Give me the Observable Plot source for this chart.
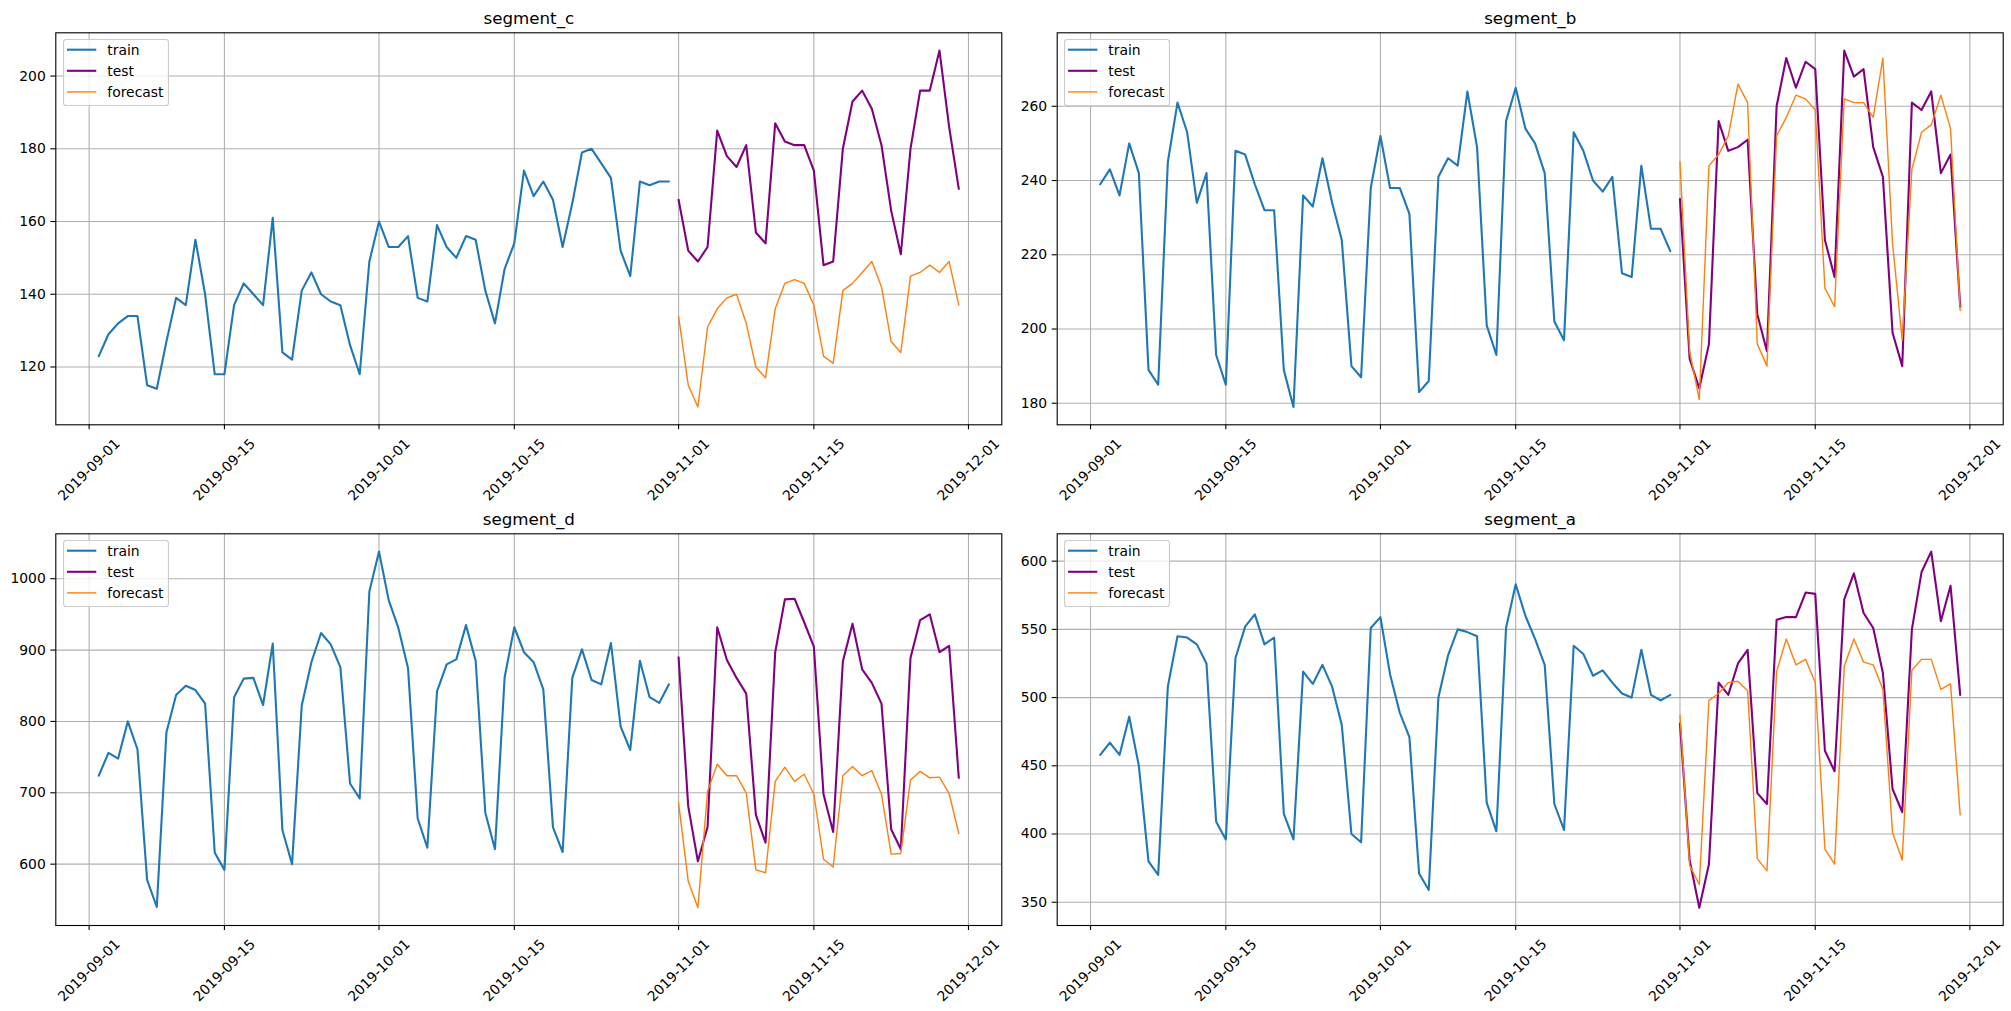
<!DOCTYPE html>
<html><head><meta charset="utf-8">
<script src="https://cdn.jsdelivr.net/npm/d3@7"></script>
<script src="https://cdn.jsdelivr.net/npm/@observablehq/plot@0.6"></script>
<style>
html,body{margin:0;padding:0;background:#fff;}
#root{position:relative;width:2011px;height:1011px;overflow:hidden;font-family:"DejaVu Sans",sans-serif;background:#fff;}
.panel{position:absolute;}
.legend{position:absolute;}
</style></head><body><div id="root"></div>
<script>
// ---------- data ----------
const trainStart = "2019-09-02";
const testStart = "2019-11-01";
const xTickDates = ["2019-09-01","2019-09-15","2019-10-01","2019-10-15","2019-11-01","2019-11-15","2019-12-01"];
const xTickLabels = ["2019-09-01","2019-09-15","2019-10-01","2019-10-15","2019-11-01","2019-11-15","2019-12-01"];
const seriesNames = ["train","test","forecast"];

// segment_c
const train_c = [123,129,132,134,134,115,114,127,139,137,155,140,118,118,137,143,140,137,161,124,122,141,146,140,138,137,126,118,149,160,153,153,156,139,138,159,153,150,156,155,141,132,147,154,174,167,171,166,153,165,179,180,176,172,152,145,171,170,171,171];
const test_c = [166,152,149,153,185,178,175,181,157,154,187,182,181,181,174,148,149,180,193,196,191,181,163,151,180,196,196,207,186,169];
const forecast_c = [134,115,109,131,136,139,140,132,120,117,136,143,144,143,137,123,121,141,143,146,149,142,127,124,145,146,148,146,149,137];
const yTicks_c = [120,140,160,180,200];

// segment_b
const train_b = [239,243,236,250,242,189,185,245,261,253,234,242,193,185,248,247,239,232,232,189,179,236,233,246,234,224,190,187,238,252,238,238,231,183,186,241,246,244,264,249,201,193,256,265,254,250,242,202,197,253,248,240,237,241,215,214,244,227,227,221];
const test_b = [235,192,184,196,256,248,249,251,204,194,260,273,265,272,270,224,214,275,268,270,249,241,199,190,261,259,264,242,247,206];
const forecast_b = [245,194,181,244,247,252,266,261,196,190,252,257,263,262,259,211,206,262,261,261,257,273,223,197,243,253,255,263,254,205];
const yTicks_b = [180,200,220,240,260];

// segment_d
const train_d = [724,756,748,800,761,578,540,785,837,850,844,825,616,592,834,860,861,823,909,648,600,822,883,924,908,876,713,692,982,1038,970,931,875,664,623,842,880,887,935,885,672,621,862,932,897,883,845,652,617,861,901,858,852,910,793,760,885,834,826,852];
const test_d = [890,681,604,652,932,886,861,839,669,630,897,971,972,939,905,698,645,884,937,873,854,825,649,621,889,942,950,897,906,721];
const forecast_d = [686,576,539,702,740,724,724,700,592,588,716,736,716,726,698,607,596,724,737,724,731,698,614,615,718,730,721,722,699,643];
const yTicks_d = [600,700,800,900,1000];

// segment_a
const train_a = [458,467,458,486,450,380,370,508,545,544,539,525,409,396,529,552,561,539,544,415,396,519,510,524,508,480,400,394,551,559,517,489,471,371,359,500,531,550,548,545,423,402,551,583,560,543,524,422,403,538,532,516,520,511,503,500,535,502,498,502];
const test_a = [481,381,346,378,511,502,525,535,430,422,557,559,559,577,576,461,446,572,591,562,551,518,433,416,550,592,607,556,582,502];
const forecast_a = [487,377,363,498,503,511,512,505,382,373,519,543,524,528,511,389,378,523,543,526,524,506,401,381,520,528,528,506,510,414];
const yTicks_a = [350,400,450,500,550,600];

// ---------- styling / layout ----------
const colors = {train:"#1f77b4", test:"purple", forecast:"#ff7f0e"};
const widths = {train:2.1, test:2.1, forecast:1.4};

const panels = [
  {name:"segment_c", train:train_c, test:test_c, forecast:forecast_c, yTicks:yTicks_c,
   left:0, top:0, width:1005, height:505, ml:55.3, mr:3.7, mt:32.3, mb:80.7},
  {name:"segment_b", train:train_b, test:test_b, forecast:forecast_b, yTicks:yTicks_b,
   left:1005, top:0, width:1006, height:505, ml:51.7, mr:8.3, mt:32.3, mb:80.7},
  {name:"segment_d", train:train_d, test:test_d, forecast:forecast_d, yTicks:yTicks_d,
   left:0, top:505, width:1005, height:506, ml:55.3, mr:3.7, mt:28.3, mb:86},
  {name:"segment_a", train:train_a, test:test_a, forecast:forecast_a, yTicks:yTicks_a,
   left:1005, top:505, width:1006, height:506, ml:51.7, mr:8.3, mt:28.3, mb:86}
];

const root = document.getElementById("root");
const tickDates = xTickDates.map(s => new Date(s + "T00:00:00Z"));
const t0 = new Date(trainStart + "T00:00:00Z");
const t1 = new Date(testStart + "T00:00:00Z");

function rowsFrom(values, start) {
  return values.map((v, i) => ({date: d3.utcDay.offset(start, i), value: v}));
}

function makeLegend() {
  const ns = "http://www.w3.org/2000/svg";
  const svg = document.createElementNS(ns, "svg");
  svg.setAttribute("width", 107); svg.setAttribute("height", 68);
  const rect = document.createElementNS(ns, "rect");
  rect.setAttribute("x", 0.55); rect.setAttribute("y", 0.55);
  rect.setAttribute("width", 104.9); rect.setAttribute("height", 65.9);
  rect.setAttribute("rx", 2.8);
  rect.setAttribute("fill", "#fff"); rect.setAttribute("fill-opacity", 0.8);
  rect.setAttribute("stroke", "#cccccc"); rect.setAttribute("stroke-width", 1.1);
  svg.appendChild(rect);
  seriesNames.forEach((s, i) => {
    const cy = 10.7 + 21.1 * i;
    const ln = document.createElementNS(ns, "line");
    ln.setAttribute("x1", 4); ln.setAttribute("x2", 33.3);
    ln.setAttribute("y1", cy); ln.setAttribute("y2", cy);
    ln.setAttribute("stroke", colors[s]); ln.setAttribute("stroke-width", widths[s]);
    svg.appendChild(ln);
    const tx = document.createElementNS(ns, "text");
    tx.setAttribute("x", 44.3); tx.setAttribute("y", cy + 5.2);
    tx.setAttribute("font-family", "DejaVu Sans"); tx.setAttribute("font-size", "13.9px");
    tx.setAttribute("fill", "#000");
    tx.textContent = s;
    svg.appendChild(tx);
  });
  return svg;
}

for (const p of panels) {
  const trainRows = rowsFrom(p.train, t0);
  const testRows = rowsFrom(p.test, t1);
  const forecastRows = rowsFrom(p.forecast, t1);
  const allVals = [...p.train, ...p.test, ...p.forecast];
  const [ymin, ymax] = d3.extent(allVals);
  const yp = 0.05 * (ymax - ymin);
  const allDates = [...trainRows, ...testRows].map(d => +d.date);
  const [xmin, xmax] = d3.extent(allDates);
  const xp = 0.05 * (xmax - xmin);

  const chart = Plot.plot({
    width: p.width, height: p.height,
    marginLeft: p.ml, marginRight: p.mr, marginTop: p.mt, marginBottom: p.mb,
    style: {fontFamily: "DejaVu Sans", fontSize: "13.9px", color: "#000", background: "transparent", overflow: "visible"},
    x: {type: "utc", domain: [new Date(xmin - xp), new Date(xmax + xp)], label: null},
    y: {domain: [ymin - yp, ymax + yp], label: null},
    marks: [
      Plot.gridX(tickDates, {stroke: "#b0b0b0", strokeOpacity: 1, strokeWidth: 1.1}),
      Plot.gridY(p.yTicks, {stroke: "#b0b0b0", strokeOpacity: 1, strokeWidth: 1.1}),
      Plot.axisX(tickDates, {tickSize: 5, tickFormat: () => "", label: null, stroke: "#000", strokeWidth: 1.1}),
      Plot.text(xTickLabels, {x: (d, i) => tickDates[i], text: d => d, frameAnchor: "bottom", dy: 45,
        rotate: -45, textAnchor: "middle", lineAnchor: "middle", fill: "#000", fontSize: 13.9}),
      Plot.axisY(p.yTicks, {tickSize: 5, tickPadding: 5, label: null, tickFormat: d => String(d),
        stroke: "#000", strokeWidth: 1.1, fill: "#000"}),
      Plot.line(trainRows, {x: "date", y: "value", stroke: colors.train, strokeWidth: widths.train}),
      Plot.line(testRows, {x: "date", y: "value", stroke: colors.test, strokeWidth: widths.test}),
      Plot.line(forecastRows, {x: "date", y: "value", stroke: colors.forecast, strokeWidth: widths.forecast}),
      Plot.frame({stroke: "#000", strokeWidth: 1.1}),
      Plot.text([p.name], {frameAnchor: "top", dy: -9, lineAnchor: "bottom", fontSize: 16.7, fill: "#000"})
    ]
  });
  const div = document.createElement("div");
  div.className = "panel";
  div.style.left = p.left + "px"; div.style.top = p.top + "px";
  div.appendChild(chart);
  root.appendChild(div);

  const lg = document.createElement("div");
  lg.className = "legend";
  lg.style.left = (p.left + p.ml + 7.4) + "px";
  lg.style.top = (p.top + p.mt + 7) + "px";
  lg.appendChild(makeLegend());
  root.appendChild(lg);
}
</script>
</body></html>
